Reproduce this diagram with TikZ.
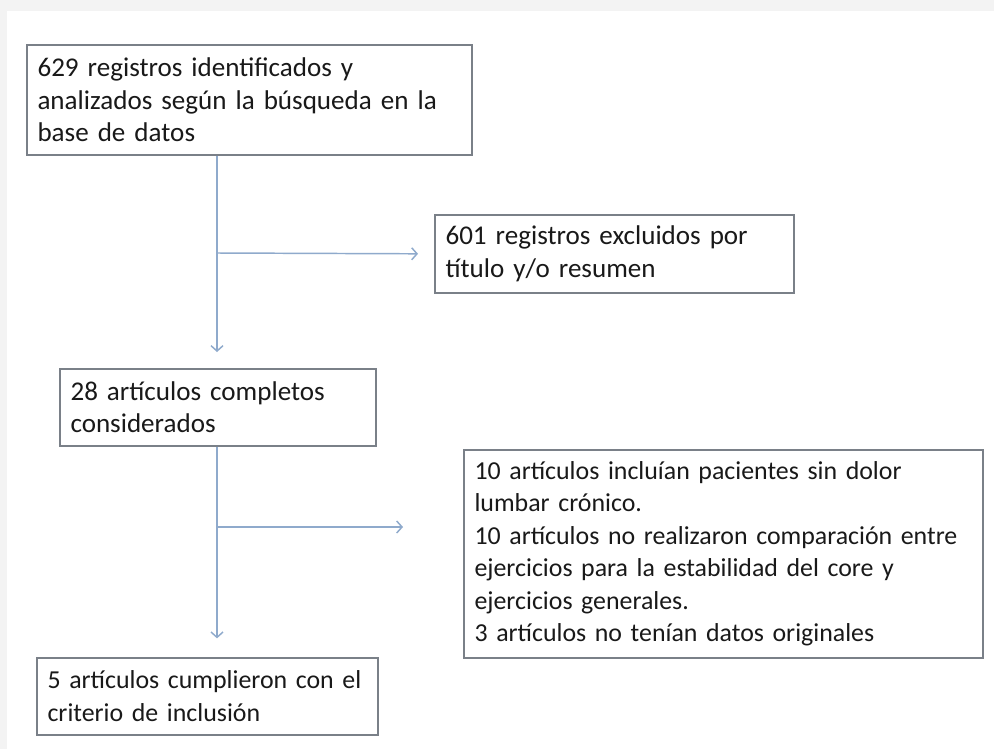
\documentclass[tikz,border=0pt]{standalone}
\usepackage{fontspec}
\setmainfont{Carlito}
\usetikzlibrary{arrows.meta}
\definecolor{boxline}{RGB}{122,128,136}
\definecolor{flowline}{RGB}{143,170,204}
\definecolor{pagegray}{RGB}{243,243,243}
\definecolor{inktext}{RGB}{25,25,25}

\begin{document}
\begin{tikzpicture}[x = 0.75pt, y = -0.75pt,
                    box/.style = {draw = boxline, line width = 1.3pt, fill = white,
                                  anchor = north west, align = left,
                                  inner xsep = 8pt, inner ysep = 0pt, text = inktext,
                                  font = \fontsize{20.3}{24.4}\selectfont},
                    narrow/.style = {font = \fontsize{19.4}{24.4}\selectfont},
                    flow/.style = {draw = flowline, line width = 1.1pt,
                                   -{Straight Barb[length = 4pt, width = 9pt]}}]
  \fill [pagegray] (0, 0) rectangle (994, 749);
  \fill [white] (7, 11) rectangle (994, 749);

  \node [box, text width = 317.75pt, minimum height = 82.5pt] (reg) at (26, 44)
        {\mbox{629 registros identificados y}\\
         \mbox{analizados según la búsqueda en la}\\
         base de datos};

  \node [box, text width = 253.25pt, minimum height = 58.5pt] (exc) at (434, 214)
        {\mbox{601 registros excluidos por}\\
         título y/o resumen};

  \node [box, text width = 221pt, minimum height = 57.75pt] (art) at (59, 368)
        {\mbox{28 artículos completos}\\
         considerados};

  \node [box, narrow, text width = 373.25pt, minimum height = 156pt] (des) at (463, 449)
        {\mbox{10 artículos incluían pacientes sin dolor}\\
         \mbox{lumbar crónico.}\\
         \mbox{10 artículos no realizaron comparación entre}\\
         \mbox{ejercicios para la estabilidad del core y}\\
         \mbox{ejercicios generales.}\\
         \mbox{3 artículos no tenían datos originales}};

  \node [box, narrow, text width = 239.75pt, minimum height = 57.75pt] (fin) at (36, 657)
        {\mbox{5 artículos cumplieron con el}\\
         \mbox{criterio de inclusión}};

  \coordinate (j1) at (217, 253);
  \coordinate (j2) at (217, 527);
  \coordinate (t2) at (403, 527);

  \draw [flow, shorten > = 12pt] (j1 |- reg.south) -- (j1 |- art.north);
  \draw [flow, shorten > = 12pt] (j1) -- (exc.west);
  \draw [flow, shorten > = 14pt] (j2 |- art.south) -- (j2 |- fin.north);
  \draw [flow] (j2) -- (t2);
\end{tikzpicture}
\end{document}
